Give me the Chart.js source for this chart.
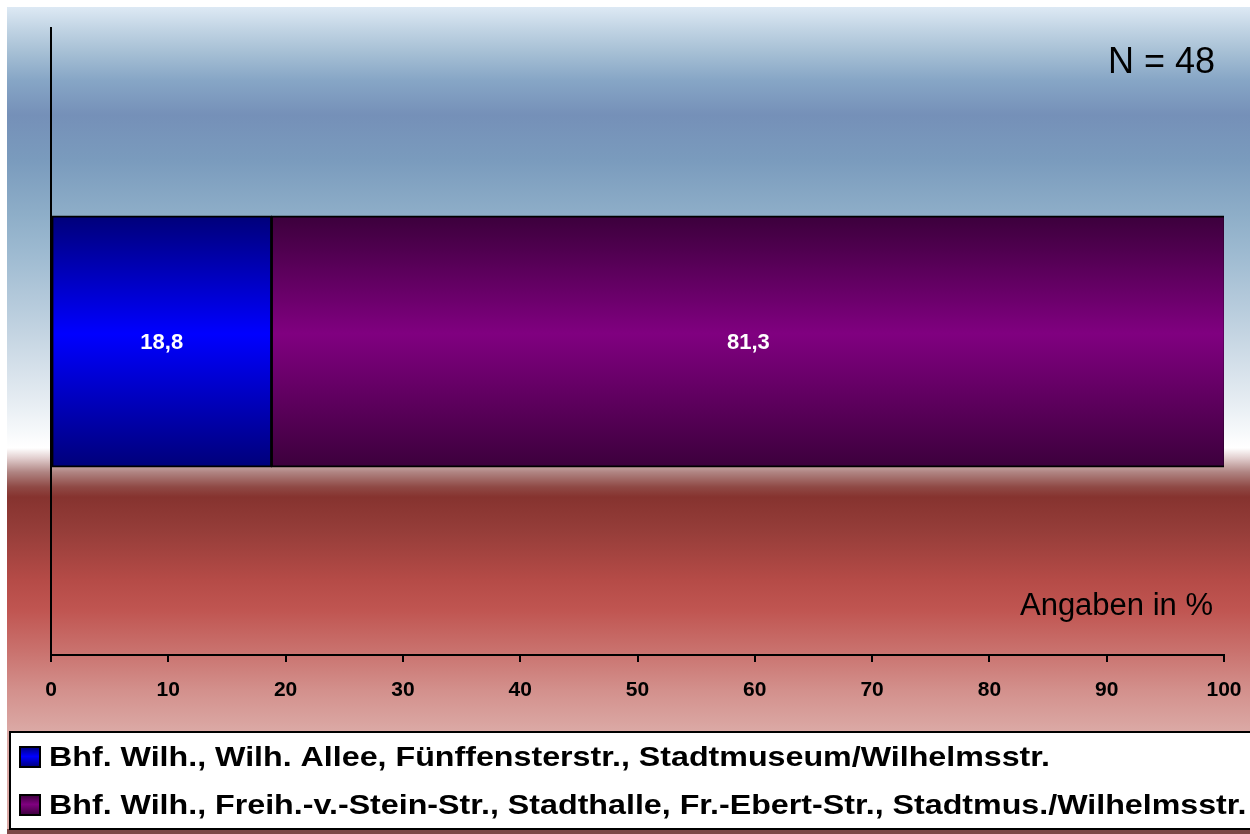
<!DOCTYPE html>
<html>
<head>
<meta charset="utf-8">
<script src="https://cdn.jsdelivr.net/npm/chart.js@4.4.1/dist/chart.umd.min.js"></script>
<style>
  html, body { margin: 0; padding: 0; background: #ffffff; }
  canvas { display: block; }
</style>
</head>
<body>
<canvas id="chart" width="1250" height="834"></canvas>
<script>
// Categories and series values
const categories = [''];
const seriesNames = [
  'Bhf. Wilh., Wilh. Allee, Fünffensterstr., Stadtmuseum/Wilhelmsstr.',
  'Bhf. Wilh., Freih.-v.-Stein-Str., Stadthalle, Fr.-Ebert-Str., Stadtmus./Wilhelmsstr.'
];
const routeWilhelmsallee = [18.8];
const routeStadthalle = [81.3];
const xTickValues = [0, 10, 20, 30, 40, 50, 60, 70, 80, 90, 100];
const sampleNote = 'N = 48';
const unitNote = 'Angaben in %';

const FONT = "'Liberation Sans', Arial, sans-serif";
const seriesShades = [['#00007a', '#0000ff'], ['#3c003c', '#800080']];

// Vertical edge-mid-edge shading between two y positions
function shade(c, yTop, yBottom, edge, mid) {
  const g = c.createLinearGradient(0, yTop, 0, yBottom);
  g.addColorStop(0, edge);
  g.addColorStop(0.47, mid);
  g.addColorStop(1, edge);
  return g;
}

function barShade(i) {
  return (ctx) => {
    const chart = ctx.chart;
    const area = chart.chartArea;
    if (!area) return seriesShades[i][1];
    const c = (area.top + area.bottom) / 2;
    const h = (area.bottom - area.top) * 0.2;
    return shade(chart.ctx, c - h, c + h, seriesShades[i][0], seriesShades[i][1]);
  };
}

// Page backdrop: sky-to-red gradient and the white legend panel
const backdrop = {
  id: 'backdrop',
  beforeDraw(chart) {
    const c = chart.ctx;
    c.save();
    c.fillStyle = '#ffffff';
    c.fillRect(0, 0, chart.width, chart.height);
    const y0 = 7, y1 = 731, span = y1 - y0;
    const g = c.createLinearGradient(0, y0, 0, y1);
    const stops = [
      [7, '#dde9f4'], [30, '#c0d3e3'], [55, '#a3bdd3'], [80, '#87a6c6'],
      [115, '#7590b8'], [160, '#7a9bbd'], [215, '#8eaec8'], [250, '#9cb9d0'],
      [330, '#c2d3e1'], [400, '#e5ecf2'], [440, '#fbfcfd'], [448, '#ffffff'],
      [458, '#e2cfcf'], [472, '#b08583'], [487, '#8f4945'], [497, '#86332f'],
      [530, '#953d39'], [580, '#b54b47'], [610, '#c05551'], [650, '#c9716d'],
      [690, '#d3908c'], [731, '#dba9a5']
    ];
    stops.forEach(([y, col]) => g.addColorStop((y - y0) / span, col));
    c.fillStyle = g;
    c.fillRect(7, y0, chart.width - 7, chart.height - y0);
    // legend panel
    const top = 732, bottom = 829;
    c.fillStyle = '#7d4845';
    c.fillRect(7, bottom, chart.width - 7, chart.height - bottom);
    c.fillStyle = '#ffffff';
    c.fillRect(10, top, chart.width, bottom - top);
    c.strokeStyle = '#000000';
    c.lineWidth = 2;
    c.strokeRect(10, top, chart.width + 10, bottom - top);
    c.restore();
  }
};

// Value labels centred in each bar segment
const valueLabels = {
  id: 'valueLabels',
  afterDatasetsDraw(chart) {
    const c = chart.ctx;
    c.save();
    c.font = 'bold 22px ' + FONT;
    c.fillStyle = '#ffffff';
    c.textAlign = 'center';
    c.textBaseline = 'middle';
    chart.data.datasets.forEach((ds, i) => {
      const meta = chart.getDatasetMeta(i);
      meta.data.forEach((el, j) => {
        const v = ds.data[j];
        const x = (el.x + el.base) / 2;
        c.fillText(v.toFixed(1).replace('.', ','), x, el.y + 1);
      });
    });
    c.restore();
  }
};

// Notes and the series key in the panel below the axis
const notesAndKey = {
  id: 'notesAndKey',
  afterDraw(chart) {
    const c = chart.ctx;
    c.save();
    c.fillStyle = '#000000';
    c.textAlign = 'right';
    c.textBaseline = 'alphabetic';
    c.font = '36px ' + FONT;
    c.fillText(sampleNote, 1215, 73);
    c.font = '31px ' + FONT;
    c.fillText(unitNote, 1213, 615);

    const boxX = 20, box = 20, rowStart = 757, rowGap = 48;
    chart.data.datasets.forEach((ds, i) => {
      const cy = rowStart + i * rowGap;
      const top = cy - box / 2;
      c.fillStyle = shade(c, top, top + box, seriesShades[i][0], seriesShades[i][1]);
      c.fillRect(boxX, top, box, box);
      c.strokeStyle = '#000000';
      c.lineWidth = 2;
      c.strokeRect(boxX, top, box, box);
      c.save();
      c.translate(49, cy + 1);
      c.scale(1.15, 1);
      c.font = 'bold 28px ' + FONT;
      c.fillStyle = '#000000';
      c.textAlign = 'left';
      c.textBaseline = 'middle';
      c.fillText(ds.label, 0, 0);
      c.restore();
    });
    c.restore();
  }
};

new Chart(document.getElementById('chart'), {
  type: 'bar',
  data: {
    labels: categories,
    datasets: seriesNames.map((name, i) => ({
      label: name,
      data: [routeWilhelmsallee, routeStadthalle][i],
      backgroundColor: barShade(i),
      borderColor: '#000000',
      borderWidth: 2,
      borderSkipped: false,
      inflateAmount: 0.6
    }))
  },
  options: {
    indexAxis: 'y',
    responsive: false,
    animation: false,
    devicePixelRatio: 1,
    layout: { padding: { top: 28, right: 26, bottom: 112, left: -4 } },
    datasets: { bar: { categoryPercentage: 1, barPercentage: 0.4 } },
    scales: {
      x: {
        type: 'linear',
        stacked: true,
        min: 0,
        max: 100,
        afterBuildTicks(scale) { scale.ticks = xTickValues.map(v => ({ value: v })); },
        afterFit(scale) {
          scale.height = 67;
          scale.paddingLeft = 0;
          scale.paddingRight = 0;
        },
        border: { display: true, color: '#000000', width: 2 },
        grid: { display: true, drawOnChartArea: false, drawTicks: true, tickLength: 7, tickWidth: 2, tickColor: '#000000', color: '#000000', lineWidth: 2 },
        ticks: { color: '#000000', font: { family: FONT, size: 21, weight: 'bold' }, padding: 16, maxRotation: 0, autoSkip: false }
      },
      y: {
        stacked: true,
        afterFit(scale) { scale.width = 55; },
        border: { display: true, color: '#000000', width: 2 },
        grid: { display: false },
        ticks: { display: false }
      }
    },
    plugins: {
      tooltip: { enabled: false },
      legend: { display: false }
    }
  },
  plugins: [backdrop, valueLabels, notesAndKey]
});
</script>
</body>
</html>
